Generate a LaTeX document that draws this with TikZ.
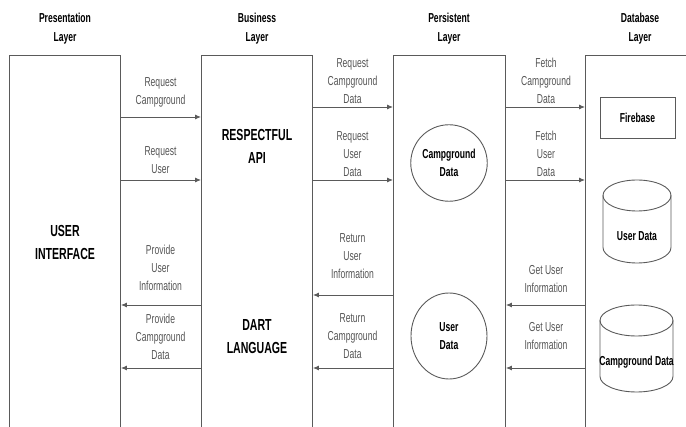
\documentclass[tikz,border=0pt]{standalone}
\usepackage{fontspec}
\setmainfont{Liberation Sans}[FakeStretch=0.66]
\usetikzlibrary{arrows.meta,shapes.geometric}

\definecolor{lineclr}{HTML}{5A5A5A}
\definecolor{lblclr}{HTML}{555555}

\tikzset{
  layerbox/.style={draw=lineclr, line width=0.9pt, anchor=north west, minimum height=420},
  head/.style={font=\bfseries\fontsize{13}{19}\selectfont, align=center},
  bigtext/.style={font=\bfseries\fontsize{16}{23}\selectfont, align=center},
  lbl/.style={font=\fontsize{13}{18}\selectfont, text=lblclr, align=center},
  arr/.style={draw=lineclr, line width=0.9pt, -{Latex[length=6pt,width=5pt]}},
  store/.style={draw=lineclr, line width=0.9pt, font=\bfseries\fontsize{13}{18}\selectfont, align=center},
  storetext/.style={font=\bfseries\fontsize{13}{18}\selectfont},
  dbline/.style={draw=lineclr, line width=0.9pt}
}

\begin{document}
\begin{tikzpicture}[x=1pt,y=-1pt]
  \useasboundingbox (0,0) rectangle (686,427);
  \clip (0,0) rectangle (686,427);

  % layer headings
  \node[head] (hpres) at (65,28.5) {Presentation\\Layer};
  \node[head] (hbus) at (257,28.5) {Business\\Layer};
  \node[head] (hpers) at (449,28.5) {Persistent\\Layer};
  \node[head] (hdb) at (640,28.5) {Database\\Layer};

  % layer boxes
  \node[layerbox, minimum width=111] (pres) at (9,55) {};
  \node[layerbox, minimum width=111] (bus) at (201,55) {};
  \node[layerbox, minimum width=112] (pers) at (393,55) {};
  \node[layerbox, minimum width=130] (db) at (585,55) {};

  % box contents
  \node[bigtext] (ui) at (65,242) {USER\\INTERFACE};
  \node[bigtext] (api) at (257,146) {RESPECTFUL\\API};
  \node[bigtext] (dart) at (257,336.5) {DART\\LANGUAGE};
  \node[store, circle, minimum size=76.5] (cgdata) at (449,163) {Campground\\Data};
  \node[store, ellipse, minimum width=76, minimum height=86] (udata) at (449,336) {User\\Data};
  \node[store, minimum width=75, minimum height=41] (fb) at (637.5,117.5) {Firebase};

  % database cylinders
  \draw[dbline] (637,195.5) ellipse [x radius=34, y radius=15.5];
  \draw[dbline] (603,195.5) -- (603,247.5) arc [start angle=180, end angle=0, x radius=34, y radius=15.5] -- (671,195.5);
  \node[storetext] (udb) at (637,236) {User Data};
  \draw[dbline] (636.5,320.5) ellipse [x radius=36.5, y radius=15.5];
  \draw[dbline] (600,320.5) -- (600,376.5) arc [start angle=180, end angle=0, x radius=36.5, y radius=15.5] -- (673,320.5);
  \node[storetext] (cgdb) at (636.5,362) {Campground Data};

  % presentation <-> business
  \draw[arr] (pres.east |- 0,117) -- (bus.west |- 0,117);
  \draw[arr] (pres.east |- 0,180) -- (bus.west |- 0,180);
  \draw[arr] (bus.west |- 0,305) -- (pres.east |- 0,305);
  \draw[arr] (bus.west |- 0,368) -- (pres.east |- 0,368);
  \node[lbl] (l1) at (160.5,92) {Request\\Campground};
  \node[lbl] (l2) at (160.5,160.5) {Request\\User};
  \node[lbl] (l3) at (160.5,268) {Provide\\User\\Information};
  \node[lbl] (l4) at (160.5,337) {Provide\\Campground\\Data};

  % business <-> persistent
  \draw[arr] (bus.east |- 0,107) -- (pers.west |- 0,107);
  \draw[arr] (bus.east |- 0,180) -- (pers.west |- 0,180);
  \draw[arr] (pers.west |- 0,295) -- (bus.east |- 0,295);
  \draw[arr] (pers.west |- 0,368) -- (bus.east |- 0,368);
  \node[lbl] (l5) at (352.5,81) {Request\\Campground\\Data};
  \node[lbl] (l6) at (352.5,154) {Request\\User\\Data};
  \node[lbl] (l7) at (352.5,256) {Return\\User\\Information};
  \node[lbl] (l8) at (352.5,336) {Return\\Campground\\Data};

  % persistent <-> database
  \draw[arr] (pers.east |- 0,107) -- (db.west |- 0,107);
  \draw[arr] (pers.east |- 0,180) -- (db.west |- 0,180);
  \draw[arr] (db.west |- 0,305) -- (pers.east |- 0,305);
  \draw[arr] (db.west |- 0,368) -- (pers.east |- 0,368);
  \node[lbl] (l9) at (546,81) {Fetch\\Campground\\Data};
  \node[lbl] (l10) at (546,154) {Fetch\\User\\Data};
  \node[lbl] (l11) at (546,279.5) {Get User\\Information};
  \node[lbl] (l12) at (546,336) {Get User\\Information};
\end{tikzpicture}
\end{document}
